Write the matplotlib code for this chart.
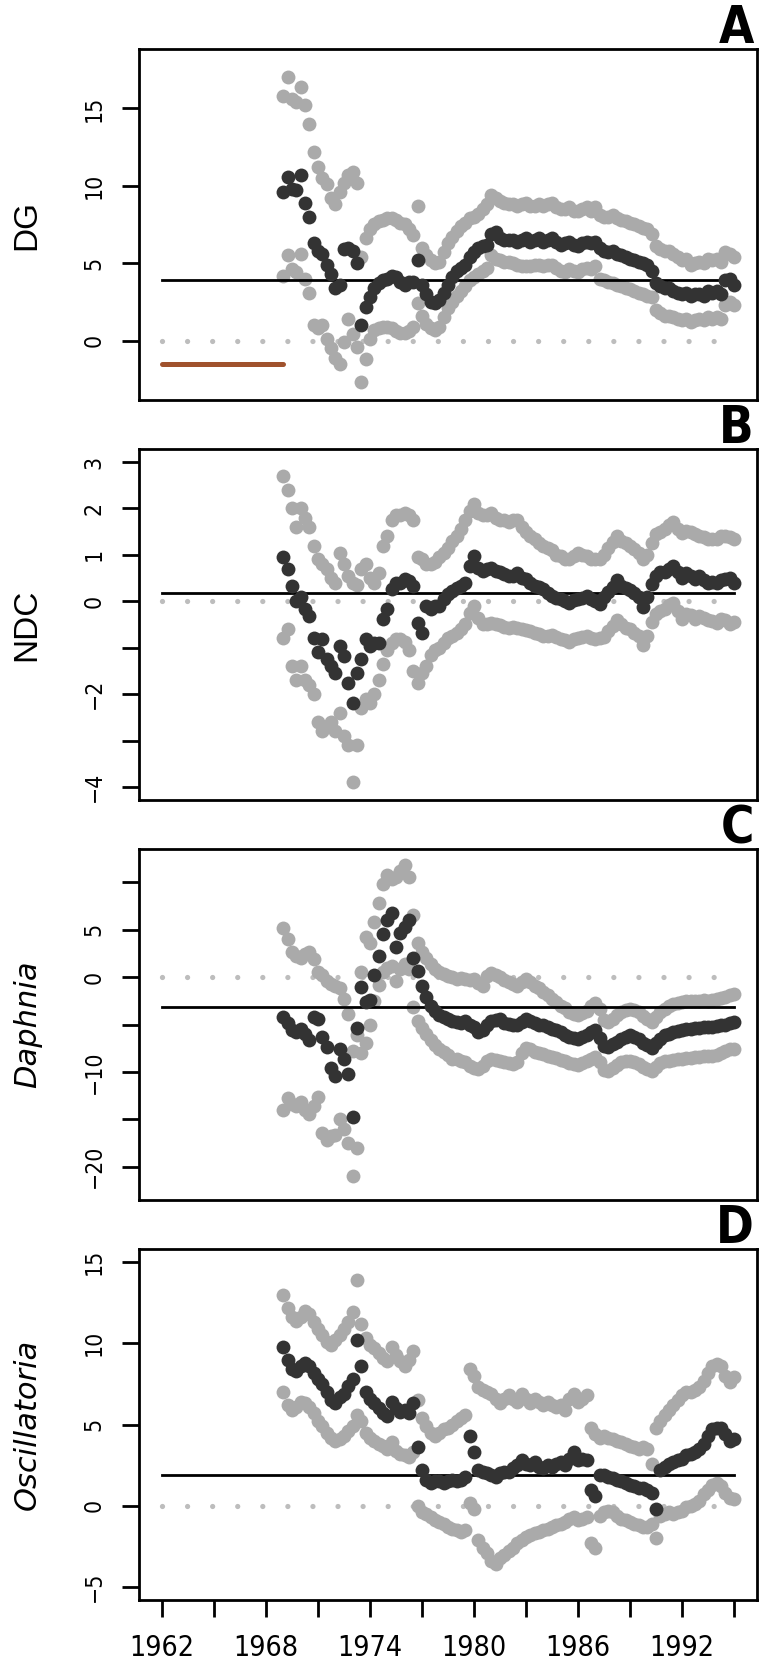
import numpy as np
import matplotlib
matplotlib.use("Agg")
import matplotlib.pyplot as plt
from matplotlib import font_manager
from matplotlib.font_manager import FontProperties
from matplotlib.textpath import TextPath

# ------------------------------------------------------------------ data
# sampling times of the estimates (quarterly, 1969.00 ... 1995.00)
years = np.arange(1969.0, 1995.001, 0.25)

# Panel A : DG
dg_est = [9.6, 10.6, 9.8, 9.7,   10.7, 8.9, 8.0, 6.3,   5.8, 5.6, 4.9, 4.3,
          3.4, 3.6, 5.9, 6.0,    5.8, 5.0, 1.0, 2.2,    2.8, 3.4, 3.7, 3.9,
          4.0, 4.2, 4.1, 3.8,    3.6, 3.8, 3.8, 5.2,    3.6, 3.0, 2.5, 2.4,
          2.6, 3.1, 3.6, 4.1,    4.5, 4.7, 4.9, 5.4,    5.7, 6.0, 6.1, 6.2,
          6.9, 7.0, 6.6, 6.5,    6.5, 6.5, 6.4, 6.5,    6.6, 6.4, 6.5, 6.6,
          6.4, 6.5, 6.6, 6.4,    6.2, 6.3, 6.4, 6.2,    6.1, 6.3, 6.4, 6.3,
          6.4, 6.0, 5.8, 5.7,    5.8, 5.6, 5.5, 5.4,    5.3, 5.2, 5.1, 5.0,
          4.9, 4.5, 3.7, 3.5,    3.4, 3.4, 3.2, 3.1,    3.0, 3.1, 2.9, 3.0,
          3.0, 2.9, 3.2, 3.1,    3.2, 3.0, 3.9, 4.0,    3.6]
dg_up = [15.8, 17.0, 15.6, 15.4, 16.4, 15.2, 14.0, 12.2, 11.2, 10.5, 10.1, 9.2,
         8.8, 9.6, 10.2, 10.7,   10.9, 10.2, 5.4, 6.6,    7.2, 7.5, 7.7, 7.8,
         7.9, 7.9, 7.8, 7.6,     7.5, 7.2, 6.8, 8.7,      6.0, 5.5, 5.2, 5.0,
         5.1, 5.7, 6.3, 6.7,     7.1, 7.4, 7.6, 7.9,      8.0, 8.2, 8.5, 8.8,
         9.4, 9.2, 9.0, 8.9,     8.8, 8.8, 8.7, 8.8,      8.9, 8.7, 8.7, 8.8,
         8.7, 8.8, 8.9, 8.6,     8.5, 8.5, 8.6, 8.4,      8.4, 8.5, 8.6, 8.4,
         8.6, 8.1, 8.0, 8.0,     8.1, 7.9, 7.8, 7.7,      7.6, 7.5, 7.4, 7.3,
         7.2, 6.9, 6.1, 5.9,     5.8, 5.8, 5.6, 5.4,      5.2, 5.3, 4.9, 5.0,
         5.1, 5.0, 5.3, 5.2,     5.3, 5.1, 5.7, 5.6,      5.4]
dg_lo = [4.2, 5.5, 4.6, 4.4,    5.6, 4.0, 3.1, 1.0,     0.8, 1.0, 0.1, -0.5,
         -1.1, -1.5, -0.1, 1.4, 0.4, -0.4, -2.7, -1.2,  0.1, 0.7, 0.8, 0.9,
         0.9, 0.8, 0.6, 0.5,    0.5, 0.6, 0.9, 2.4,     1.6, 1.1, 0.8, 0.7,
         0.9, 1.5, 2.1, 2.5,    2.9, 3.2, 3.5, 3.9,     4.1, 4.3, 4.5, 4.7,
         5.5, 5.3, 5.2, 5.1,    5.1, 5.0, 4.9, 4.8,     4.8, 4.8, 4.9, 4.9,
         4.8, 4.9, 4.9, 4.7,    4.5, 4.4, 4.6, 4.5,     4.4, 4.6, 4.7, 4.6,
         4.8, 4.0, 3.9, 3.8,    3.7, 3.6, 3.5, 3.4,     3.3, 3.2, 3.1, 3.0,
         2.9, 2.8, 2.0, 1.8,    1.6, 1.6, 1.5, 1.4,     1.3, 1.4, 1.2, 1.3,
         1.4, 1.3, 1.5, 1.4,    1.5, 1.4, 2.3, 2.5,     2.3]

# Panel B : NDC
ndc_est = [0.95, 0.7, 0.33, 0.0,   0.1, -0.17, -0.32, -0.8,  -1.1, -0.82, -1.25, -1.4,
           -1.54, -0.96, -1.18, -1.75, -2.2, -1.54, -1.25, -0.82, -0.96, -0.9, -0.9, -0.39,
           -0.17, 0.26, 0.4, 0.4,   0.47, 0.44, 0.33, -0.46,  -0.68, -0.1, -0.17, -0.1,
           -0.1, 0.04, 0.15, 0.22,  0.29, 0.33, 0.4, 0.76,    0.98, 0.72, 0.65, 0.69,
           0.72, 0.65, 0.62, 0.58,  0.54, 0.55, 0.6, 0.5,     0.47, 0.4, 0.33, 0.3,
           0.26, 0.18, 0.12, 0.08,  0.04, 0.0, -0.03, 0.02,   0.04, 0.08, 0.12, 0.05,
           0.0, -0.05, 0.1, 0.2,    0.3, 0.45, 0.33, 0.28,    0.24, 0.18, 0.1, -0.12,
           0.1, 0.38, 0.55, 0.62,   0.62, 0.7, 0.76, 0.62,    0.5, 0.6, 0.55, 0.47,
           0.55, 0.45, 0.4, 0.42,   0.4, 0.45, 0.47, 0.5,     0.4]
ndc_up = [2.7, 2.4, 2.0, 1.6,     2.0, 1.8, 1.6, 1.2,      0.9, 0.8, 0.7, 0.5,
          0.4, 1.05, 0.8, 0.55,   0.4, 0.35, 0.7, 0.8,     0.5, 0.4, 0.6, 1.2,
          1.4, 1.75, 1.85, 1.85,  1.9, 1.85, 1.75, 0.95,   0.9, 0.8, 0.8, 0.85,
          0.95, 1.05, 1.15, 1.3,  1.4, 1.55, 1.75, 1.95,   2.1, 1.9, 1.85, 1.85,
          1.9, 1.8, 1.75, 1.75,   1.7, 1.75, 1.75, 1.6,    1.5, 1.4, 1.35, 1.25,
          1.2, 1.15, 1.1, 1.0,    0.98, 0.92, 0.9, 0.98,   1.05, 1.0, 0.98, 0.92,
          0.9, 0.92, 1.0, 1.15,   1.27, 1.4, 1.3, 1.25,    1.2, 1.12, 1.05, 0.9,
          1.0, 1.25, 1.45, 1.5,   1.55, 1.65, 1.7, 1.55,   1.48, 1.52, 1.5, 1.45,
          1.4, 1.38, 1.34, 1.35,  1.35, 1.4, 1.4, 1.38,    1.34]
ndc_lo = [-0.8, -0.6, -1.4, -1.7,   -1.4, -1.7, -1.8, -2.0,   -2.6, -2.8, -2.7, -2.6,
          -2.8, -2.4, -2.9, -3.1,   -3.9, -3.1, -2.3, -2.1,   -2.2, -2.0, -1.7, -1.35,
          -1.05, -0.9, -0.82, -0.82, -0.88, -1.05, -1.5, -1.75, -1.55, -1.4, -1.15, -1.05,
          -1.0, -0.9, -0.8, -0.75,  -0.68, -0.6, -0.48, -0.25, -0.1, -0.35, -0.5, -0.48,
          -0.46, -0.5, -0.52, -0.55, -0.58, -0.56, -0.57, -0.6, -0.62, -0.63, -0.68, -0.7,
          -0.75, -0.74, -0.72, -0.78, -0.82, -0.84, -0.88, -0.82, -0.8, -0.78, -0.75, -0.8,
          -0.82, -0.8, -0.78, -0.65, -0.53, -0.4, -0.5, -0.58,  -0.6, -0.68, -0.75, -0.95,
          -0.75, -0.45, -0.28, -0.2, -0.17, -0.08, -0.03, -0.2,  -0.38, -0.28, -0.3, -0.38,
          -0.32, -0.35, -0.4, -0.42, -0.46, -0.38, -0.4, -0.5,   -0.45]

# Panel C : Daphnia
daph_est = [-4.2, -4.8, -5.6, -5.8,   -5.5, -6.0, -6.6, -4.2,   -4.4, -6.3, -7.4, -9.6,
            -10.4, -7.6, -8.6, -10.2, -14.8, -5.4, -1.0, -2.6,  -2.4, 0.2, 2.2, 4.5,
            6.0, 6.8, 3.2, 4.6,       5.3, 6.0, 2.0, 0.6,       -0.9, -2.1, -3.1, -3.6,
            -4.0, -4.2, -4.4, -4.6,   -4.7, -4.8, -4.6, -5.0,   -5.3, -5.8, -5.6, -5.0,
            -4.6, -4.5, -4.4, -4.8,   -4.9, -5.0, -5.1, -4.7,   -4.4, -4.6, -4.8, -5.0,
            -5.1, -5.3, -5.5, -5.6,   -5.8, -6.1, -6.3, -6.4,   -6.5, -6.3, -6.1, -5.8,
            -5.6, -6.4, -7.3, -7.4,   -7.1, -6.8, -6.5, -6.3,   -6.1, -6.3, -6.5, -6.9,
            -7.2, -7.5, -7.0, -6.5,   -6.1, -6.0, -5.8, -5.7,   -5.6, -5.5, -5.5, -5.4,
            -5.4, -5.3, -5.3, -5.3,   -5.2, -5.1, -5.0, -4.8,   -4.7]
daph_up = [5.2, 4.0, 2.6, 2.2,      2.0, 2.4, 2.6, 1.9,      0.5, 0.2, -0.4, -0.7,
           -0.9, -1.2, -2.3, -3.9,  -7.8, -6.1, 0.5, 4.2,    3.6, 5.8, 7.8, 9.8,
           10.8, 10.3, 10.5, 11.2,  11.8, 10.6, 6.5, 3.6,    2.6, 2.0, 1.4, 0.9,
           0.5, 0.3, 0.15, 0.0,     -0.2, -0.1, -0.2, -0.3,  -0.2, -0.6, -0.9, 0.1,
           0.4, 0.2, 0.0, -0.3,     -0.55, -0.7, -0.9, -0.5, -0.2, -0.5, -0.9, -1.2,
           -1.6, -1.9, -2.3, -2.6,  -3.0, -3.3, -3.7, -3.9,  -4.0, -3.8, -3.6, -3.0,
           -2.7, -3.4, -4.5, -4.7,  -4.4, -4.0, -3.7, -3.5,  -3.35, -3.5, -3.7, -4.1,
           -4.4, -4.7, -4.2, -3.7,  -3.35, -3.1, -2.85, -2.7, -2.65, -2.55, -2.5, -2.5,
           -2.5, -2.45, -2.5, -2.4, -2.3, -2.2, -2.1, -1.9,  -1.8]
daph_lo = [-14.0, -12.8, -13.4, -13.6, -13.2, -14.0, -14.4, -13.6, -12.6, -16.4, -17.2, -16.8,
           -16.6, -15.0, -16.0, -17.5, -21.0, -18.0, -8.0, -7.0,   -5.0, -2.5, -0.8, 0.5,
           1.0, 1.2, -0.4, 0.8,        1.4, 0.8, -3.2, -4.6,       -5.4, -6.0, -6.6, -7.2,
           -7.6, -7.9, -8.2, -8.6,     -8.6, -8.9, -9.0, -9.4,     -9.6, -9.7, -9.4, -8.8,
           -8.6, -8.7, -8.9, -9.0,     -9.1, -9.2, -9.0, -8.0,     -7.5, -7.6, -7.9, -8.0,
           -8.1, -8.3, -8.4, -8.5,     -8.7, -8.9, -9.1, -9.2,     -9.3, -9.1, -8.9, -8.6,
           -8.4, -9.0, -9.8, -9.9,     -9.6, -9.3, -9.0, -8.9,     -8.8, -9.0, -9.2, -9.5,
           -9.7, -9.9, -9.5, -9.1,     -8.9, -8.8, -8.7, -8.6,     -8.6, -8.5, -8.5, -8.4,
           -8.4, -8.3, -8.3, -8.3,     -8.2, -8.0, -7.8, -7.6,     -7.6]

# Panel D : Oscillatoria
osc_est = [9.8, 9.0, 8.4, 8.3,     8.6, 8.8, 8.6, 8.2,     7.8, 7.5, 7.0, 6.5,
           6.3, 6.7, 6.9, 7.4,     7.8, 10.2, 8.6, 7.0,    6.6, 6.3, 6.0, 5.7,
           5.5, 6.4, 6.0, 5.8,     5.9, 5.7, 6.3, 3.6,     2.2, 1.6, 1.4, 1.5,
           1.5, 1.4, 1.5, 1.6,     1.5, 1.6, 1.8, 4.3,     3.3, 2.2, 2.1, 2.0,
           1.9, 1.8, 2.0, 2.1,     2.1, 2.3, 2.5, 2.8,     2.6, 2.5, 2.7, 2.4,
           2.3, 2.5, 2.4, 2.6,     2.7, 2.5, 2.9, 3.3,     2.8, 2.9, 2.8, 1.0,
           0.6, 1.9, 1.9, 1.8,     1.7, 1.6, 1.5, 1.4,     1.3, 1.2, 1.1, 1.1,
           1.0, 0.8, -0.2, 2.2,    2.4, 2.6, 2.7, 2.8,     2.9, 3.1, 3.2, 3.3,
           3.5, 3.8, 4.3, 4.7,     4.8, 4.8, 4.4, 4.0,     4.1]
osc_up = [13.0, 12.2, 11.6, 11.4,  11.6, 12.0, 11.8, 11.3,  10.9, 10.5, 10.1, 9.9,
          10.2, 10.5, 10.9, 11.3,  11.9, 13.9, 11.2, 10.3,  9.9, 9.7, 9.4, 9.1,
          8.9, 9.8, 9.3, 8.9,      8.6, 9.0, 9.5, 6.5,      5.4, 4.9, 4.5, 4.3,
          4.5, 4.7, 4.8, 5.0,      5.2, 5.4, 5.6, 8.4,      8.0, 7.3, 7.1, 7.0,
          6.9, 6.6, 6.3, 6.6,      6.8, 6.6, 6.4, 6.9,      6.6, 6.3, 6.6, 6.4,
          6.2, 6.4, 6.2, 6.1,      6.2, 5.9, 6.6, 6.9,      6.4, 6.6, 6.8, 4.8,
          4.4, 4.2, 4.3, 4.2,      4.1, 4.0, 3.9, 3.8,      3.7, 3.6, 3.5, 3.6,
          3.5, 2.6, 4.8, 5.2,      5.6, 5.9, 6.2, 6.5,      6.8, 7.0, 7.0, 7.1,
          7.3, 7.7, 8.2, 8.6,      8.7, 8.6, 8.0, 7.6,      7.9]
osc_lo = [7.0, 6.2, 5.9, 6.1,      6.4, 6.3, 6.1, 5.7,      5.2, 4.9, 4.5, 4.2,
          4.0, 4.1, 4.3, 4.6,      4.9, 5.6, 5.2, 4.5,      4.2, 4.0, 3.8, 3.7,
          3.5, 3.9, 3.4, 3.2,      3.1, 3.0, 3.3, 0.0,      -0.4, -0.5, -0.7, -0.9,
          -1.0, -1.1, -1.3, -1.4,  -1.5, -1.6, -1.5, 0.2,   -0.2, -2.1, -2.6, -2.9,
          -3.4, -3.6, -3.2, -3.0,  -2.8, -2.6, -2.3, -2.1,  -1.9, -1.8, -1.7, -1.6,
          -1.5, -1.4, -1.3, -1.2,  -1.1, -1.0, -0.8, -0.7,  -0.9, -0.8, -0.7, -2.3,
          -2.6, -0.6, -0.4, -0.3,  -0.4, -0.6, -0.8, -0.9,  -1.0, -1.1, -1.2, -1.3,
          -1.3, -1.1, -2.0, -0.6,  -0.5, -0.4, -0.5, -0.4,  -0.3, -0.1, 0.0, 0.1,
          0.3, 0.7, 1.0, 1.3,      1.4, 1.2, 0.8, 0.5,      0.4]

# overall means (horizontal reference lines)
mean_dg, mean_ndc, mean_daph, mean_osc = 3.9, 0.17, -3.2, 1.9
ref_span = (1962, 1995)
# pre-series level shown in panel A
pre_span, pre_level = (1962, 1969), -1.5

labels = ["DG", "NDC", "Daphnia", "Oscillatoria"]
letters = ["A", "B", "C", "D"]
yticks = [[0, 5, 10, 15], [-4, -3, -2, -1, 0, 1, 2, 3],
          list(range(-20, 11, 5)), [-5, 0, 5, 10, 15]]
ytick_labels = [["0", "5", "10", "15"],
                ["\u22124", "", "\u22122", "", "0", "1", "2", "3"],
                ["\u221220", "", "\u221210", "", "0", "5", ""],
                ["\u22125", "0", "5", "10", "15"]]
ylims = [(-3.84, 18.84), (-4.28, 3.28), (-23.5, 13.5), (-5.8, 15.8)]
xticks = list(range(1962, 1996, 3))
xtick_labels = [str(y) if (y - 1962) % 6 == 0 else "" for y in xticks]

# ------------------------------------------------------------------ fonts
def _wt(f):
    w = f.weight
    if isinstance(w, str):
        w = {"normal": 400, "regular": 400, "book": 400, "bold": 700}.get(w.lower(), 400)
    return int(w)

def find_font(preds, weight):
    for pred in preds:
        for f in font_manager.fontManager.ttflist:
            try:
                if pred(f) and f.style == "normal" and abs(_wt(f) - weight) < 60:
                    return f.fname
            except Exception:
                pass
    return None

preds = [
    lambda f: f.name == "Liberation Sans Narrow",
    lambda f: f.name == "Noto Sans Condensed",
    lambda f: f.name == "Noto Sans" and f.stretch == "condensed",
    lambda f: f.name == "DejaVu Sans" and f.stretch == "condensed",
    lambda f: f.name == "Noto Sans SemiCondensed",
    lambda f: "Narrow" in f.name and "Sans" in f.name,
    lambda f: "Condensed" in f.name and "Sans" in f.name and "Mono" not in f.name,
    lambda f: f.name == "Liberation Sans",
]
reg_path = find_font(preds, 400)
bold_path = find_font(preds, 700)

def fprop(path, size, bold=False):
    if path:
        return FontProperties(fname=path, size=size)
    return FontProperties(family="Liberation Sans", size=size,
                          weight="bold" if bold else "normal")

def ink(s, path, bold=False):
    ext = TextPath((0, 0), s, size=100, prop=fprop(path, 100, bold)).get_extents()
    return ext.width, ext.height

# font sizes chosen so that the drawn glyphs span the reference's pixel sizes
xtick_fs = 72 * 60.0 / ink("1962", reg_path)[0]
ytick_fs = 0.8 * xtick_fs
letter_fs = 72 * 37.0 / ink("A", bold_path, True)[1]
title_fs = 24
reg_name = FontProperties(fname=reg_path).get_name() if reg_path else "Liberation Sans"

DARK = "#333333"
GREY = "#AAAAAA"
ZERO = "#BDBDBD"
BROWN = "#A0522D"

W, H = 766, 1669
fig = plt.figure(figsize=(W / 100, H / 100), dpi=100)
left_px, right_px = 139, 757
tops = [49, 449, 849, 1249]
ph = 351

series = [(dg_est, dg_up, dg_lo, mean_dg),
          (ndc_est, ndc_up, ndc_lo, mean_ndc),
          (daph_est, daph_up, daph_lo, mean_daph),
          (osc_est, osc_up, osc_lo, mean_osc)]

ms = 10.0
for k in range(4):
    est, up, lo, mu = series[k]
    ax = fig.add_axes([left_px / W, 1 - (tops[k] + ph) / H,
                       (right_px - left_px) / W, ph / H])
    ax.set_xlim(1962 - 1.32, 1995 + 1.32)
    ax.set_ylim(*ylims[k])

    ax.plot(ref_span, [0, 0], color=ZERO, lw=3.8,
            linestyle=(0, (0.001, 4.75)), dash_capstyle="round", zorder=1)
    ax.plot(years, up, "o", color=GREY, ms=ms, mew=0, zorder=2)
    ax.plot(years, lo, "o", color=GREY, ms=ms, mew=0, zorder=2)
    ax.plot(ref_span, [mu, mu], color="black", lw=2.0, zorder=3)
    ax.plot(years, est, "o", color=DARK, ms=ms, mew=0, zorder=4)
    if k == 0:
        ax.plot(pre_span, [pre_level, pre_level], color=BROWN, lw=3.6,
                solid_capstyle="round", zorder=3)

    for s in ax.spines.values():
        s.set_linewidth(2.0)
    ax.set_yticks(yticks[k], ytick_labels[k])
    ax.tick_params(axis="y", length=12.2, width=2.0, pad=12.0,
                   labelsize=ytick_fs, labelrotation=90,
                   labelfontfamily=reg_name)
    yfp = fprop(reg_path, ytick_fs)
    for t in ax.yaxis.get_major_ticks():
        t.label1.set_fontproperties(yfp)
        t.label1.set_verticalalignment("center")
    if k == 3:
        ax.set_xticks(xticks, xtick_labels)
        ax.tick_params(axis="x", length=12.2, width=2.0, pad=12,
                       labelsize=xtick_fs, labelfontfamily=reg_name)
        xfp = fprop(reg_path, xtick_fs)
        for t in ax.xaxis.get_major_ticks():
            t.label1.set_fontproperties(xfp)
    else:
        ax.set_xticks([])

    cy = 1 - (tops[k] + ph / 2) / H
    if k >= 2:
        fig.text(36 / W, cy, labels[k], rotation=90, rotation_mode="anchor",
                 ha="center", va="baseline", fontsize=22,
                 family="DejaVu Sans", style="italic")
    else:
        fig.text(35 / W, cy, labels[k], rotation=90, rotation_mode="anchor",
                 ha="center", va="baseline", fontsize=title_fs,
                 family="Liberation Sans")
    fig.text(754 / W, 1 - (43 + 400 * k) / H, letters[k], ha="right",
             va="baseline", fontproperties=fprop(bold_path, letter_fs, True))

fig.savefig("out.png", dpi=100)
